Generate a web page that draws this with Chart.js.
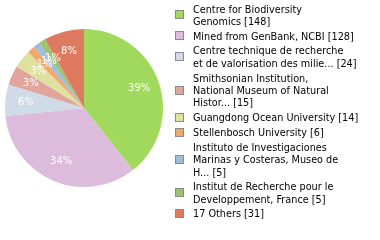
<!DOCTYPE html>
<html>
<head>
<meta charset="utf-8">
<script src="https://cdn.jsdelivr.net/npm/chart.js@4/dist/chart.umd.min.js"></script>
<style>
  html, body { margin: 0; padding: 0; background: #fff; }
  #wrap { position: relative; width: 380px; height: 240px; overflow: hidden; }
  #chartBox { position: absolute; left: 0; top: 0; width: 380px; height: 240px; }
  #legend { position: absolute; left: 175px; top: 3.5px; font-family: "DejaVu Sans", sans-serif; font-size: 9.7px; line-height: 12.4px; color: #000; }
  .item { display: flex; align-items: center; margin-bottom: 2.3px; }
  .item.tall { margin-top: 2.5px; }
  .sw { width: 7px; height: 7px; border: 1px solid #8a8a8a; flex: none; margin-right: 9px; margin-top: -2px; }
  .txt { white-space: pre; }
</style>
</head>
<body>
<div id="wrap">
  <div id="chartBox"><canvas id="c"></canvas></div>
  <div id="legend"></div>
</div>
<script>
const categories = [
  "Centre for Biodiversity Genomics",
  "Mined from GenBank, NCBI",
  "Centre technique de recherche et de valorisation des milie...",
  "Smithsonian Institution, National Museum of Natural Histor...",
  "Guangdong Ocean University",
  "Stellenbosch University",
  "Instituto de Investigaciones Marinas y Costeras, Museo de H...",
  "Institut de Recherche pour le Developpement, France",
  "17 Others"
];
const counts = [148, 128, 24, 15, 14, 6, 5, 5, 31];
const colors = ["#a0d95c", "#dcbbdd", "#cfdbe6", "#e0a59c", "#dfe29f", "#f0a96c", "#9ebde2", "#9cc46f", "#de7a5f"];

function wrapWords(s, maxChars) {
  const words = s.split(" ");
  const lines = [];
  let cur = "";
  for (const w of words) {
    if (cur === "") cur = w;
    else if ((cur + " " + w).length <= maxChars) cur += " " + w;
    else { lines.push(cur); cur = w; }
  }
  if (cur) lines.push(cur);
  return lines;
}

const legend = document.getElementById("legend");
categories.forEach((name, i) => {
  const lines = wrapWords(name, 31);
  lines[lines.length - 1] += " [" + counts[i] + "]";
  const item = document.createElement("div");
  item.className = "item" + (lines.length > 2 ? " tall" : "");
  const sw = document.createElement("div");
  sw.className = "sw";
  sw.style.background = colors[i];
  const t = document.createElement("div");
  t.className = "txt";
  t.textContent = lines.join("\n");
  item.appendChild(sw);
  item.appendChild(t);
  legend.appendChild(item);
});

const pctLabels = {
  id: "pctLabels",
  afterDatasetsDraw(chart) {
    const ctx = chart.ctx;
    const meta = chart.getDatasetMeta(0);
    const data = chart.data.datasets[0].data;
    const total = data.reduce((a, b) => a + b, 0);
    ctx.save();
    ctx.fillStyle = "#ffffff";
    ctx.font = "10px 'DejaVu Sans'";
    ctx.textAlign = "center";
    ctx.textBaseline = "middle";
    meta.data.forEach((arc, i) => {
      const p = arc.getProps(["x", "y", "startAngle", "endAngle", "outerRadius"], true);
      const mid = (p.startAngle + p.endAngle) / 2;
      const r = p.outerRadius * 0.74;
      const pct = Math.floor(data[i] / total * 100);
      ctx.fillText(pct + "%", p.x + Math.cos(mid) * r, p.y + Math.sin(mid) * r);
    });
    ctx.restore();
  }
};

new Chart(document.getElementById("c"), {
  type: "pie",
  data: {
    labels: categories,
    datasets: [{ data: counts, backgroundColor: colors, borderWidth: 0 }]
  },
  options: {
    responsive: true,
    maintainAspectRatio: false,
    animation: false,
    layout: { padding: { left: 5, right: 217, top: 29, bottom: 53 } },
    plugins: { legend: { display: false }, tooltip: { enabled: false } }
  },
  plugins: [pctLabels]
});
</script>
</body>
</html>
